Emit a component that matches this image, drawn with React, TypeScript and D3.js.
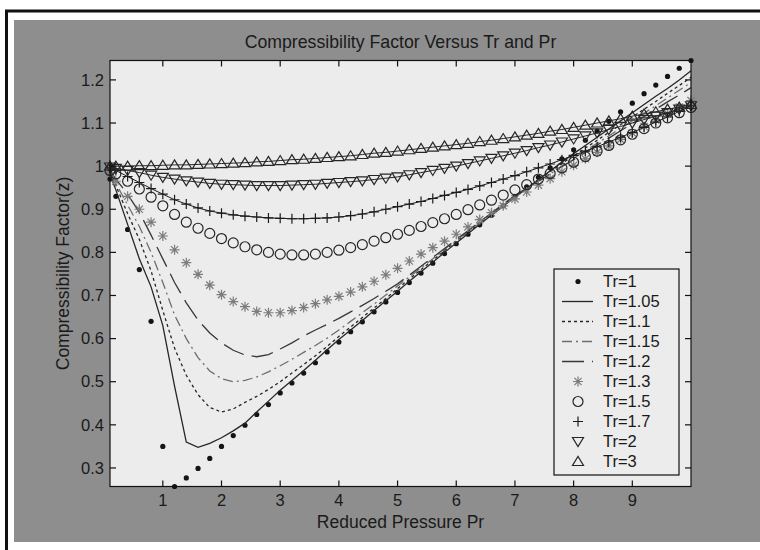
import { useEffect, useRef } from 'react';
import * as d3 from 'd3';

// reduced pressure grid
const PR = [
    0.1, 0.2, 0.4, 0.6, 0.8, 1.0, 1.2, 1.4, 1.6, 1.8, 2.0, 2.2, 2.4, 2.6, 2.8, 3.0, 3.2, 3.4, 3.6, 3.8, 4.0, 4.2, 4.4,
    4.6, 4.8, 5.0, 5.2, 5.4, 5.6, 5.8, 6.0, 6.2, 6.4, 6.6, 6.8, 7.0, 7.2, 7.4, 7.6, 7.8, 8.0, 8.2, 8.4, 8.6, 8.8, 9.0,
    9.2, 9.4, 9.6, 9.8, 10.0,
];

// z values, one list per Tr
const Z_TR1 = [
    0.97, 0.93, 0.853, 0.76, 0.64, 0.35, 0.257, 0.277, 0.299, 0.322, 0.35, 0.375, 0.399, 0.424, 0.447, 0.474, 0.497, 0.52,
    0.544, 0.569, 0.592, 0.616, 0.639, 0.662, 0.685, 0.707, 0.73, 0.752, 0.775, 0.797, 0.82, 0.842, 0.864, 0.886, 0.908,
    0.93, 0.952, 0.974, 0.996, 1.017, 1.038, 1.06, 1.081, 1.104, 1.126, 1.146, 1.168, 1.188, 1.208, 1.227, 1.245,
];
const Z_TR105 = [
    0.98, 0.945, 0.865, 0.785, 0.72, 0.63, 0.49, 0.36, 0.348, 0.357, 0.37, 0.386, 0.404, 0.43, 0.455, 0.48, 0.503, 0.526,
    0.55, 0.574, 0.598, 0.62, 0.642, 0.665, 0.688, 0.71, 0.733, 0.755, 0.777, 0.8, 0.822, 0.843, 0.865, 0.886, 0.907,
    0.928, 0.948, 0.969, 0.989, 1.009, 1.029, 1.048, 1.067, 1.086, 1.105, 1.124, 1.143, 1.162, 1.18, 1.2, 1.221,
];
const Z_TR11 = [
    0.985, 0.955, 0.89, 0.83, 0.757, 0.665, 0.578, 0.515, 0.47, 0.44, 0.43, 0.437, 0.452, 0.466, 0.482, 0.5, 0.52, 0.54,
    0.56, 0.582, 0.605, 0.627, 0.649, 0.671, 0.693, 0.716, 0.738, 0.76, 0.782, 0.804, 0.826, 0.847, 0.868, 0.889, 0.91,
    0.93, 0.949, 0.968, 0.987, 1.006, 1.024, 1.042, 1.06, 1.078, 1.096, 1.114, 1.132, 1.15, 1.169, 1.187, 1.206,
];
const Z_TR115 = [
    0.988, 0.96, 0.91, 0.86, 0.8, 0.73, 0.655, 0.6, 0.556, 0.525, 0.507, 0.5, 0.503, 0.511, 0.523, 0.537, 0.552, 0.568,
    0.584, 0.601, 0.62, 0.64, 0.66, 0.68, 0.701, 0.722, 0.743, 0.764, 0.785, 0.807, 0.828, 0.848, 0.868, 0.888, 0.908,
    0.928, 0.946, 0.964, 0.982, 1.0, 1.018, 1.036, 1.053, 1.07, 1.088, 1.105, 1.123, 1.14, 1.158, 1.176, 1.194,
];
const Z_TR12 = [
    0.99, 0.97, 0.935, 0.893, 0.84, 0.785, 0.73, 0.683, 0.643, 0.613, 0.59, 0.573, 0.562, 0.558, 0.563, 0.576, 0.59,
    0.606, 0.62, 0.633, 0.647, 0.662, 0.677, 0.693, 0.71, 0.727, 0.747, 0.768, 0.788, 0.809, 0.83, 0.85, 0.871, 0.891,
    0.912, 0.932, 0.949, 0.965, 0.982, 0.999, 1.015, 1.032, 1.049, 1.065, 1.082, 1.099, 1.115, 1.132, 1.149, 1.165, 1.182,
];
const Z_TR13 = [
    0.985, 0.965, 0.93, 0.9, 0.87, 0.838, 0.806, 0.776, 0.749, 0.724, 0.702, 0.686, 0.674, 0.663, 0.66, 0.66, 0.665,
    0.672, 0.681, 0.69, 0.698, 0.708, 0.72, 0.733, 0.748, 0.763, 0.78, 0.796, 0.811, 0.826, 0.842, 0.859, 0.876, 0.892,
    0.908, 0.924, 0.94, 0.956, 0.971, 0.987, 1.002, 1.017, 1.032, 1.047, 1.062, 1.077, 1.092, 1.107, 1.122, 1.137, 1.152,
];
const Z_TR15 = [
    0.99, 0.982, 0.965, 0.947, 0.928, 0.908, 0.888, 0.87, 0.856, 0.844, 0.832, 0.822, 0.813, 0.806, 0.8, 0.796, 0.794,
    0.794, 0.796, 0.8, 0.805, 0.811, 0.818, 0.826, 0.834, 0.842, 0.851, 0.86, 0.869, 0.878, 0.888, 0.899, 0.91, 0.921,
    0.933, 0.945, 0.957, 0.97, 0.983, 0.996, 1.009, 1.022, 1.035, 1.048, 1.061, 1.074, 1.087, 1.1, 1.112, 1.124, 1.136,
];
const Z_TR17 = [
    0.996, 0.99, 0.976, 0.962, 0.948, 0.935, 0.922, 0.912, 0.903, 0.896, 0.891, 0.887, 0.884, 0.882, 0.88, 0.879, 0.878,
    0.878, 0.879, 0.88, 0.882, 0.885, 0.889, 0.894, 0.9, 0.906, 0.912, 0.918, 0.925, 0.932, 0.939, 0.946, 0.954, 0.962,
    0.97, 0.978, 0.987, 0.996, 1.005, 1.015, 1.025, 1.035, 1.045, 1.056, 1.067, 1.078, 1.09, 1.102, 1.114, 1.127, 1.14,
];
const Z_TR2 = [
    0.998, 0.995, 0.99, 0.985, 0.979, 0.974, 0.97, 0.966, 0.963, 0.96, 0.958, 0.957, 0.956, 0.955, 0.955, 0.955, 0.956,
    0.957, 0.958, 0.96, 0.962, 0.964, 0.966, 0.969, 0.972, 0.975, 0.98, 0.985, 0.99, 0.995, 1.0, 1.006, 1.012, 1.018,
    1.024, 1.03, 1.036, 1.043, 1.049, 1.056, 1.063, 1.07, 1.077, 1.085, 1.092, 1.1, 1.108, 1.116, 1.124, 1.132, 1.14,
];
const Z_TR3 = [
    1.0, 1.0, 1.0, 1.001, 1.001, 1.002, 1.003, 1.003, 1.004, 1.005, 1.006, 1.007, 1.008, 1.01, 1.011, 1.013, 1.015, 1.016,
    1.018, 1.02, 1.022, 1.024, 1.027, 1.03, 1.032, 1.035, 1.038, 1.041, 1.044, 1.047, 1.05, 1.053, 1.057, 1.06, 1.064,
    1.068, 1.072, 1.076, 1.081, 1.085, 1.09, 1.095, 1.1, 1.105, 1.11, 1.116, 1.121, 1.126, 1.132, 1.137, 1.143,
];

const TR_LABELS = ['Tr=1', 'Tr=1.05', 'Tr=1.1', 'Tr=1.15', 'Tr=1.2', 'Tr=1.3', 'Tr=1.5', 'Tr=1.7', 'Tr=2', 'Tr=3'];
const X_TICKS = [1, 2, 3, 4, 5, 6, 7, 8, 9];
const Y_TICKS = [0.3, 0.4, 0.5, 0.6, 0.7, 0.8, 0.9, 1, 1.1, 1.2];

// matlab-ish styles: line dash (null = no line), marker
const STYLES = [
    { values: Z_TR1, dash: null, marker: 'dot', color: '#141414' },
    { values: Z_TR105, dash: '', marker: null, color: '#262626' },
    { values: Z_TR11, dash: '3,3', marker: null, color: '#262626' },
    { values: Z_TR115, dash: '10,4,2,4', marker: null, color: '#6e6e6e' },
    { values: Z_TR12, dash: '22,8', marker: null, color: '#383838' },
    { values: Z_TR13, dash: null, marker: 'star', color: '#7c7c7c' },
    { values: Z_TR15, dash: null, marker: 'circle', color: '#262626' },
    { values: Z_TR17, dash: '', marker: 'plus', color: '#1c1c1c' },
    { values: Z_TR2, dash: '', marker: 'tridown', color: '#262626' },
    { values: Z_TR3, dash: '', marker: 'triup', color: '#262626' },
];

const FONT = "'Liberation Sans', Arial, Helvetica, sans-serif";

const markerPath = (type) => {
    switch (type) {
        case 'plus':
            return 'M-5,0H5M0,-5V5';
        case 'star':
            return 'M-5,0H5M0,-5V5M-3.6,-3.6L3.6,3.6M-3.6,3.6L3.6,-3.6';
        case 'tridown':
            return 'M-5.5,-4L5.5,-4L0,5Z';
        case 'triup':
            return 'M-5.5,4L5.5,4L0,-5Z';
        default:
            return '';
    }
};

const drawMarker = (g, type, color, x, y) => {
    if (type === 'dot') {
        g.append('circle').attr('cx', x).attr('cy', y).attr('r', 2.6).attr('fill', color);
    } else if (type === 'circle') {
        g.append('circle')
            .attr('cx', x)
            .attr('cy', y)
            .attr('r', 5)
            .attr('fill', 'none')
            .attr('stroke', color)
            .attr('stroke-width', 1.2);
    } else {
        g.append('path')
            .attr('d', markerPath(type))
            .attr('transform', `translate(${x},${y})`)
            .attr('fill', 'none')
            .attr('stroke', color)
            .attr('stroke-width', 1.2);
    }
};

const App = () => {
    const svgRef = useRef(null);

    useEffect(() => {
        if (!svgRef.current) return;
        const svg = d3.select(svgRef.current);
        svg.selectAll('*').remove();

        const width = 760;
        const height = 550;
        const left = 110;
        const right = 691;
        const top = 60.5;
        const bottom = 486.5;

        // page frame
        svg.append('rect').attr('width', width).attr('height', height).attr('fill', '#fff');
        svg.append('rect')
            .attr('x', 6.5)
            .attr('y', 11)
            .attr('width', 770)
            .attr('height', 560)
            .attr('fill', '#fff')
            .attr('stroke', '#111')
            .attr('stroke-width', 3);
        svg.append('rect').attr('x', 14).attr('y', 20).attr('width', 746).attr('height', 522).attr('fill', '#8e8e8e');

        const allZ = STYLES.flatMap((s) => s.values);
        const x = d3.scaleLinear().domain(d3.extent(PR)).range([left, right]);
        const y = d3.scaleLinear().domain(d3.extent(allZ)).range([bottom, top]);

        svg.append('rect')
            .attr('x', left)
            .attr('y', top)
            .attr('width', right - left)
            .attr('height', bottom - top)
            .attr('fill', '#ececec');

        const g = svg.append('g');

        // curves
        STYLES.forEach((s) => {
            const pts = PR.map((p, i) => [p, s.values[i]]);
            if (s.dash !== null) {
                const line = d3
                    .line()
                    .x((d) => x(d[0]))
                    .y((d) => y(d[1]));
                g.append('path')
                    .datum(pts)
                    .attr('fill', 'none')
                    .attr('stroke', s.color)
                    .attr('stroke-width', s.marker ? 1 : 1.3)
                    .attr('stroke-dasharray', s.dash || null)
                    .attr('d', line);
            }
            if (s.marker) {
                pts.forEach((d) => drawMarker(g, s.marker, s.color, x(d[0]), y(d[1])));
            }
        });

        // axes box + inside ticks on all four sides
        const axis = svg.append('g').attr('stroke', '#111').attr('stroke-width', 1.2);
        axis.append('rect')
            .attr('x', left)
            .attr('y', top)
            .attr('width', right - left)
            .attr('height', bottom - top)
            .attr('fill', 'none');
        const tl = 6;
        X_TICKS.forEach((t) => {
            axis.append('line').attr('x1', x(t)).attr('x2', x(t)).attr('y1', bottom).attr('y2', bottom - tl);
            axis.append('line').attr('x1', x(t)).attr('x2', x(t)).attr('y1', top).attr('y2', top + tl);
        });
        Y_TICKS.forEach((t) => {
            axis.append('line').attr('x1', left).attr('x2', left + tl).attr('y1', y(t)).attr('y2', y(t));
            axis.append('line').attr('x1', right).attr('x2', right - tl).attr('y1', y(t)).attr('y2', y(t));
        });

        const txt = svg.append('g').attr('font-family', FONT).attr('fill', '#1a1a1a');
        X_TICKS.forEach((t) => {
            txt.append('text')
                .attr('x', x(t))
                .attr('y', bottom + 19)
                .attr('text-anchor', 'middle')
                .attr('font-size', 16.5)
                .text(d3.format('~g')(t));
        });
        Y_TICKS.forEach((t) => {
            txt.append('text')
                .attr('x', left - 6)
                .attr('y', y(t))
                .attr('dy', '0.35em')
                .attr('text-anchor', 'end')
                .attr('font-size', 16.5)
                .text(d3.format('~g')(t));
        });

        txt.append('text')
            .attr('x', (left + right) / 2)
            .attr('y', 48)
            .attr('text-anchor', 'middle')
            .attr('font-size', 17.7)
            .text('Compressibility Factor Versus Tr and Pr');
        txt.append('text')
            .attr('x', (left + right) / 2)
            .attr('y', 528)
            .attr('text-anchor', 'middle')
            .attr('font-size', 17.5)
            .text('Reduced Pressure Pr');
        txt.append('text')
            .attr('transform', `translate(69,${(top + bottom) / 2}) rotate(-90)`)
            .attr('text-anchor', 'middle')
            .attr('font-size', 17.5)
            .text('Compressibility Factor(z)');

        // legend
        const lg = svg.append('g');
        lg.append('rect')
            .attr('x', 554)
            .attr('y', 269)
            .attr('width', 125)
            .attr('height', 206)
            .attr('fill', '#ececec')
            .attr('stroke', '#111')
            .attr('stroke-width', 1.2);
        TR_LABELS.forEach((label, i) => {
            const s = STYLES[i];
            const ry = 281.5 + i * 20;
            if (s.marker) {
                drawMarker(lg, s.marker, s.color, 578, ry);
            } else {
                lg.append('line')
                    .attr('x1', 562)
                    .attr('x2', 593)
                    .attr('y1', ry)
                    .attr('y2', ry)
                    .attr('stroke', s.color)
                    .attr('stroke-width', 1.3)
                    .attr('stroke-dasharray', s.dash || null);
            }
            lg.append('text')
                .attr('x', 603)
                .attr('y', ry)
                .attr('dy', '0.36em')
                .attr('font-family', FONT)
                .attr('font-size', 16.5)
                .attr('fill', '#1a1a1a')
                .text(label);
        });
    }, []);

    return (
        <svg
            ref={svgRef}
            width={760}
            height={550}
            style={{ position: 'absolute', left: 0, top: 0, display: 'block' }}
        ></svg>
    );
};

export default App;
